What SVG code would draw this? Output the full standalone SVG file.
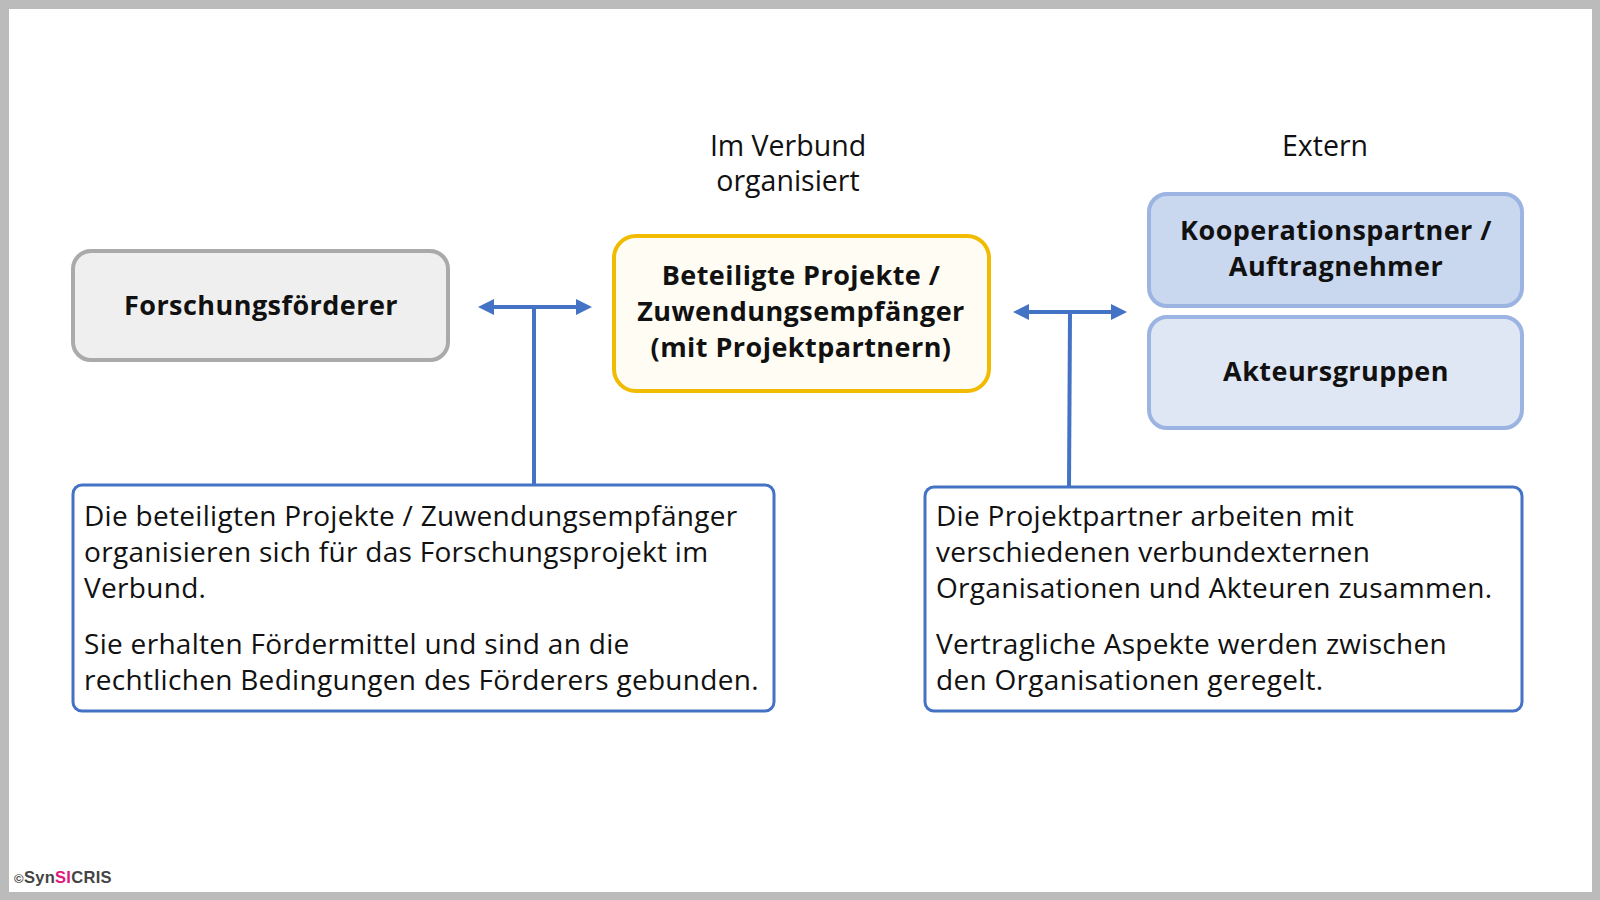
<svg xmlns="http://www.w3.org/2000/svg" width="1600" height="900" viewBox="0 0 1600 900">
<defs>
<style>
.t{font-family:"Open Sans","Noto Sans","Liberation Sans",sans-serif;fill:#111;}
.b{font-weight:bold;font-size:27px;letter-spacing:0.45px;text-anchor:middle;}
.r{font-size:28px;letter-spacing:0.3px;}
.h{font-size:28.5px;text-anchor:middle;}
.conn{stroke:#4472c4;stroke-width:4;fill:none;}
.note{fill:#fff;stroke:#4472c4;stroke-width:3;}
</style>
<marker id="ah" viewBox="0 0 16 16" refX="0" refY="8" markerWidth="16" markerHeight="16" markerUnits="userSpaceOnUse" orient="auto-start-reverse">
<path d="M0,0 L16,8 L0,16 Z" fill="#4472c4"/>
</marker>
</defs>
<rect x="0" y="0" width="1600" height="900" fill="#bbbbbb"/>
<rect x="9" y="9" width="1583" height="883" fill="#ffffff"/>

<text class="t h" x="788" y="156">Im Verbund</text>
<text class="t h" x="788" y="191">organisiert</text>
<text class="t h" x="1325" y="156">Extern</text>

<g id="forschungsfoerderer">
<rect x="73" y="251" width="375" height="109" rx="18" fill="#efefef" stroke="#aaaaaa" stroke-width="4"/>
<text class="t b" x="261" y="315">Forschungsförderer</text>
</g>

<g id="projekte">
<rect x="614" y="236" width="375" height="155" rx="22" fill="#fffcf4" stroke="#f0bb00" stroke-width="4"/>
<text class="t b" x="801" y="285">Beteiligte Projekte /</text>
<text class="t b" x="801" y="321">Zuwendungsempfänger</text>
<text class="t b" x="801" y="357">(mit Projektpartnern)</text>
</g>

<g id="kooperationspartner">
<rect x="1149" y="194" width="373" height="112" rx="18" fill="#c9d7ef" stroke="#9cb4e2" stroke-width="4"/>
<text class="t b" x="1336" y="240">Kooperationspartner /</text>
<text class="t b" x="1336" y="276">Auftragnehmer</text>
</g>

<g id="akteursgruppen">
<rect x="1149" y="317" width="373" height="111" rx="18" fill="#dfe6f4" stroke="#9cb4e2" stroke-width="4"/>
<text class="t b" x="1336" y="381">Akteursgruppen</text>
</g>

<g id="connectors">
<line class="conn" x1="494" y1="307" x2="576" y2="307" marker-start="url(#ah)" marker-end="url(#ah)"/>
<line class="conn" x1="534" y1="307" x2="534" y2="485"/>
<line class="conn" x1="1029" y1="312" x2="1111" y2="312" marker-start="url(#ah)" marker-end="url(#ah)"/>
<line class="conn" x1="1070" y1="312" x2="1069" y2="487"/>
</g>

<g id="note-left">
<rect class="note" x="73" y="485" width="701" height="226" rx="9"/>
<text class="t r" x="84" y="526">Die beteiligten Projekte / Zuwendungsempfänger</text>
<text class="t r" x="84" y="562">organisieren sich für das Forschungsprojekt im</text>
<text class="t r" x="84" y="598">Verbund.</text>
<text class="t r" x="84" y="654">Sie erhalten Fördermittel und sind an die</text>
<text class="t r" x="84" y="690">rechtlichen Bedingungen des Förderers gebunden.</text>
</g>

<g id="note-right">
<rect class="note" x="925" y="487" width="597" height="224" rx="9"/>
<text class="t r" x="936" y="526">Die Projektpartner arbeiten mit</text>
<text class="t r" x="936" y="562">verschiedenen verbundexternen</text>
<text class="t r" x="936" y="598">Organisationen und Akteuren zusammen.</text>
<text class="t r" x="936" y="654">Vertragliche Aspekte werden zwischen</text>
<text class="t r" x="936" y="690">den Organisationen geregelt.</text>
</g>

<text x="14" y="883" font-family="'Liberation Sans',Arial,sans-serif" font-weight="bold" font-size="16.5" letter-spacing="0.3" fill="#444"><tspan font-size="13">©</tspan>Syn<tspan fill="#e2177c">SI</tspan>CRIS</text>
</svg>
